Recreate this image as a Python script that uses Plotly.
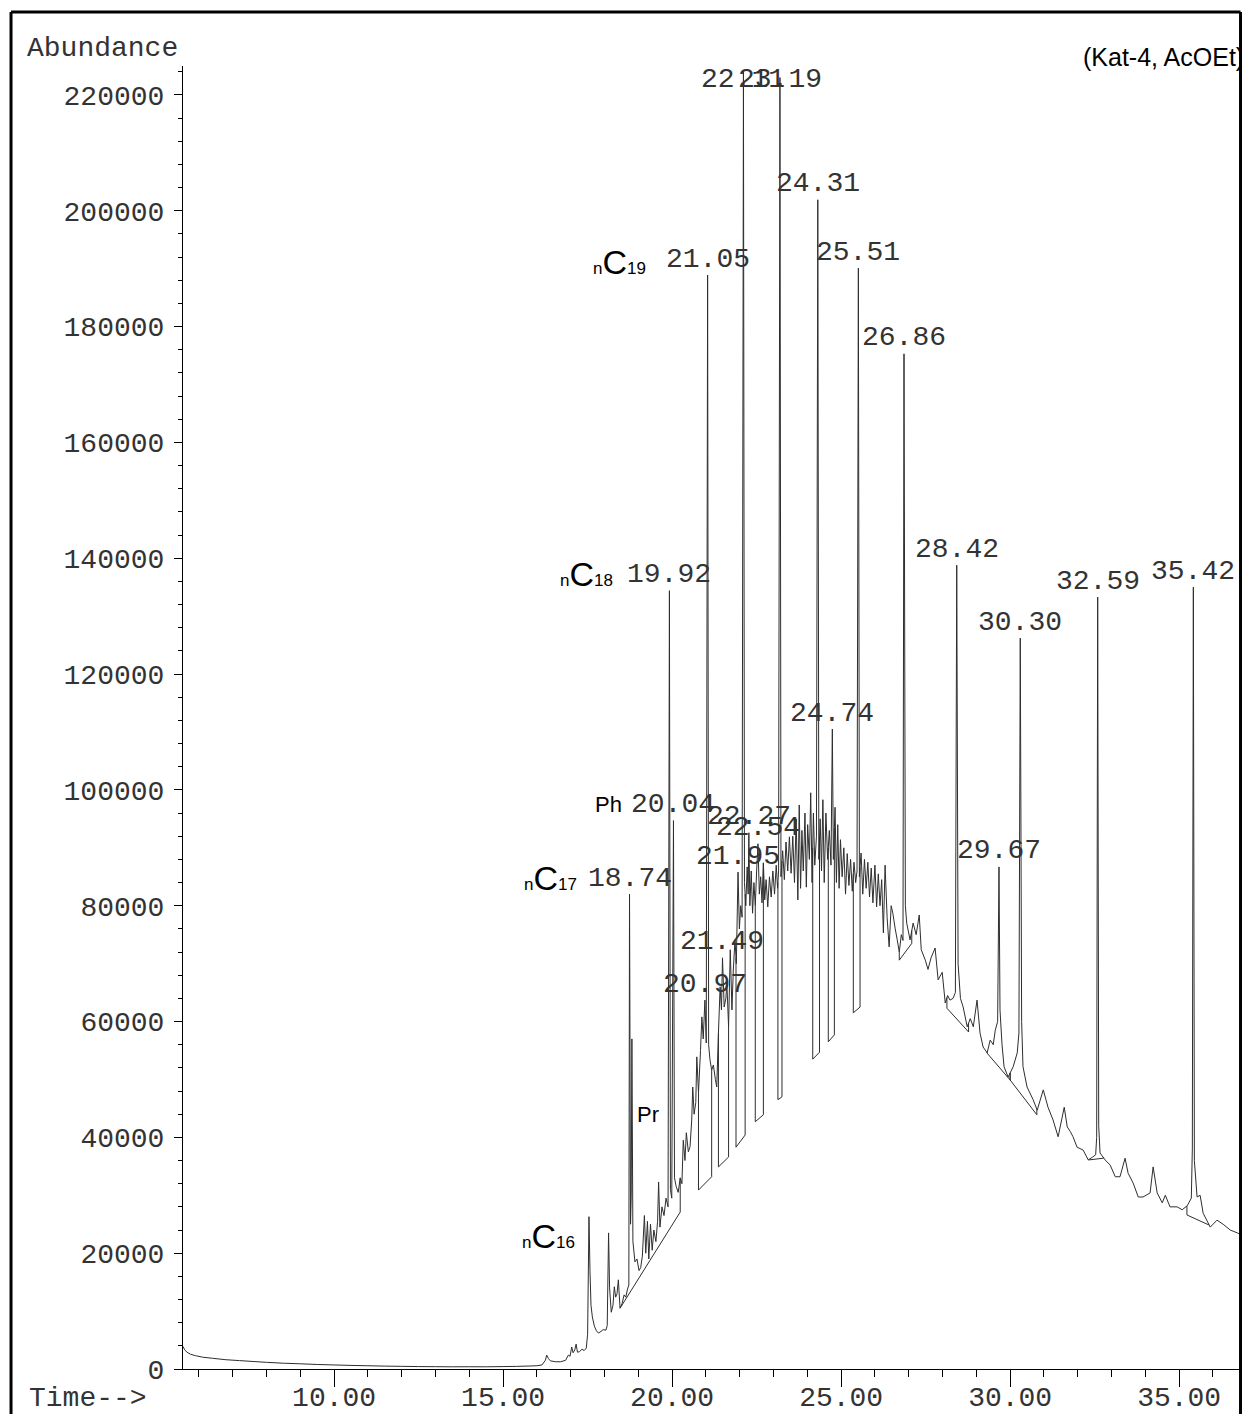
import numpy as np
import plotly.graph_objects as go

# ---- chromatogram signal (retention time in min, abundance) ----
baseline_early = [
    (5.53, 3900), (5.58, 3300), (5.65, 2900), (5.75, 2550), (5.90, 2300), (6.10, 2050),
    (6.40, 1850), (6.80, 1600), (7.20, 1450), (7.60, 1300), (8.00, 1150), (8.50, 1000),
    (9.00, 900), (9.50, 780), (10.00, 700), (10.50, 620), (11.00, 560), (11.50, 500),
    (12.00, 460), (12.50, 420), (13.00, 400), (13.50, 380), (14.00, 390), (14.50, 380),
    (15.00, 420), (15.40, 450), (15.80, 520), (16.00, 560), (16.15, 700),
]

front_peaks = [
    (16.25, 1500), (16.29, 2400), (16.34, 1800), (16.40, 1400), (16.55, 1250), (16.70, 1250),
    (16.85, 1500), (16.93, 2400), (16.98, 2200), (17.03, 3800), (17.07, 2800), (17.12, 3300),
    (17.16, 4300), (17.20, 2900), (17.26, 3000), (17.33, 3400), (17.40, 3200), (17.46, 3600),
    (17.50, 6000), (17.54, 26300), (17.57, 17000), (17.60, 11000), (17.64, 9000), (17.70, 7400),
    (17.76, 6600), (17.82, 6200), (17.90, 6500), (17.96, 6800), (18.04, 6700), (18.08, 7500),
    (18.12, 23500), (18.15, 14000), (18.20, 9800), (18.25, 11000), (18.29, 14200), (18.33, 12400),
    (18.37, 13000), (18.41, 15400), (18.46, 10500), (18.52, 11300), (18.58, 12800), (18.63, 12400),
    (18.68, 13800), (18.72, 14500), (18.74, 82000), (18.77, 25000), (18.79, 30000), (18.81, 57000),
    (18.84, 22000), (18.90, 18500), (18.96, 19000), (19.02, 17000), (19.07, 17500), (19.12, 19500),
    (19.18, 26500), (19.22, 20000), (19.27, 25500), (19.31, 19000), (19.36, 25000), (19.41, 20500),
    (19.46, 24000), (19.52, 22000), (19.57, 25500), (19.60, 32300), (19.64, 24500), (19.70, 28000),
    (19.76, 26500), (19.82, 29500), (19.88, 28000), (19.92, 134400), (19.95, 31000), (19.99, 29500),
    (20.04, 94700), (20.07, 33000), (20.12, 31500), (20.18, 30500), (20.24, 33000), (20.29, 32000),
    (20.33, 39500), (20.38, 36000), (20.42, 40800), (20.48, 37500), (20.53, 38400), (20.58, 43000),
    (20.61, 48700), (20.65, 44000), (20.70, 46000), (20.73, 53900), (20.78, 47700), (20.84, 55000),
    (20.88, 60800), (20.92, 57000), (20.97, 63700), (21.01, 56300), (21.05, 188900), (21.08, 56000),
    (21.12, 53400), (21.17, 51600), (21.22, 52500), (21.28, 50000), (21.32, 48700), (21.37, 58000),
    (21.42, 66000), (21.46, 62000), (21.49, 71000), (21.54, 62500), (21.59, 64000), (21.62, 66600),
    (21.67, 59100), (21.72, 72400), (21.77, 62000), (21.81, 68900),
]

hump = [
    (21.86, 74100), (21.90, 70000), (21.95, 85800), (21.99, 76000), (22.03, 80000), (22.07, 78000),
    (22.11, 224000), (22.14, 84000), (22.18, 80000), (22.22, 86700), (22.25, 82000), (22.27, 92600),
    (22.30, 80000), (22.34, 86000), (22.38, 78700), (22.42, 84000), (22.46, 80000), (22.50, 86000),
    (22.54, 90700), (22.58, 82000), (22.62, 85000), (22.66, 80500), (22.70, 87400), (22.74, 81000),
    (22.78, 84500), (22.83, 79800), (22.88, 85000), (22.93, 81500), (22.98, 86000), (23.03, 82000),
    (23.08, 87000), (23.12, 83000), (23.15, 86000), (23.19, 223000), (23.22, 85000), (23.27, 89500),
    (23.32, 84500), (23.37, 91000), (23.42, 86000), (23.47, 91900), (23.52, 85600), (23.57, 92000),
    (23.62, 84000), (23.67, 95000), (23.72, 81000), (23.76, 97400), (23.80, 83000), (23.84, 93000),
    (23.88, 86000), (23.93, 96000), (23.97, 83200), (24.01, 94000), (24.06, 88000), (24.10, 99500),
    (24.14, 84000), (24.18, 96000), (24.22, 87000), (24.27, 92000), (24.31, 201900), (24.34, 88000),
    (24.38, 95000), (24.42, 86000), (24.46, 98300), (24.50, 84000), (24.55, 96000), (24.60, 88000),
    (24.65, 93000), (24.70, 87000), (24.74, 110500), (24.77, 88000), (24.82, 97000), (24.86, 84000),
    (24.90, 94000), (24.94, 83000), (24.98, 91400), (25.03, 85000), (25.08, 90000), (25.13, 82000),
    (25.18, 89000), (25.23, 83500), (25.28, 88000), (25.33, 82500), (25.38, 87500), (25.43, 84000),
    (25.47, 86000), (25.51, 190100), (25.54, 85000), (25.59, 89100), (25.64, 82000), (25.69, 88000),
    (25.74, 83000), (25.79, 87500), (25.84, 81500), (25.89, 86500), (25.94, 80500), (26.00, 87000),
    (26.05, 79800), (26.10, 85500), (26.15, 80000), (26.20, 84500), (26.25, 75300), (26.30, 87000),
    (26.36, 78000), (26.42, 72900), (26.48, 80000), (26.53, 78700), (26.60, 76000), (26.66, 74100),
    (26.72, 72000), (26.78, 75000), (26.83, 74000), (26.86, 175300), (26.90, 80000),
]

tail = [
    (26.94, 77000), (27.04, 74100), (27.13, 77000), (27.22, 75000), (27.31, 78400), (27.37, 72400),
    (27.49, 70600), (27.57, 69000), (27.66, 71000), (27.78, 72700), (27.87, 67200), (27.99, 68500),
    (28.08, 63200), (28.15, 64500), (28.22, 63700), (28.31, 64000), (28.38, 65000), (28.42, 138800),
    (28.46, 70000), (28.53, 64000), (28.61, 62500), (28.73, 59100), (28.82, 60500), (28.91, 59100),
    (29.02, 63700), (29.11, 58000), (29.20, 55600), (29.32, 54600), (29.41, 56800), (29.50, 56000),
    (29.56, 58500), (29.63, 60000), (29.67, 86700), (29.70, 62000), (29.76, 56000), (29.82, 52200),
    (29.94, 50400), (30.09, 52200), (30.21, 54600), (30.26, 58000), (30.30, 126200), (30.34, 60000),
    (30.38, 52200), (30.50, 48700), (30.68, 46500), (30.80, 44700), (30.98, 48200), (31.12, 45200),
    (31.27, 43000), (31.42, 40100), (31.60, 45200), (31.69, 41800), (31.78, 41000), (31.86, 40100),
    (31.98, 38300), (32.16, 37800), (32.31, 36100), (32.44, 36600), (32.53, 37000), (32.56, 40000),
    (32.59, 133300), (32.62, 42000), (32.66, 37300), (32.81, 36100), (32.96, 35200), (33.11, 33200),
    (33.25, 33200), (33.40, 36400), (33.49, 33800), (33.64, 32100), (33.79, 29700), (33.93, 29700),
    (34.14, 30400), (34.23, 34900), (34.35, 30400), (34.50, 28700), (34.59, 30000), (34.73, 28000),
    (34.94, 28000), (35.09, 27500), (35.24, 28200), (35.36, 29500), (35.39, 38000), (35.42, 135000),
    (35.45, 36000), (35.53, 29700), (35.62, 30000), (35.71, 26900), (35.92, 24500), (36.12, 25700),
    (36.30, 25000), (36.51, 24000), (36.72, 23500), (36.80, 23300),
]

# ---- integration baselines (start time, start level, end time, end level) ----
int_start_t = [18.46, 20.78, 21.37, 21.89, 22.46, 23.13, 24.16, 24.62, 25.36, 26.72, 28.13, 29.31, 30.00, 32.32, 35.23]
int_start_a = [10500, 30900, 34900, 38300, 42700, 46500, 53500, 56500, 61500, 70600, 62300, 54600, 49900, 36100, 26600]
int_end_t = [20.24, 21.17, 21.67, 22.16, 22.70, 23.25, 24.36, 24.80, 25.56, 27.09, 28.77, 30.00, 30.79, 32.76, 35.87]
int_end_a = [27100, 33200, 36600, 40400, 43900, 47000, 54700, 57700, 62500, 73500, 58200, 49900, 43900, 36400, 24900]

# ---- retention times printed above peaks ----
peak_labels = [18.74, 19.92, 20.04, 20.97, 21.05, 21.49, 21.95, 22.11, 22.27, 22.54, 23.19,
               24.31, 24.74, 25.51, 26.86, 28.42, 29.67, 30.30, 32.59, 35.42]

# ---- compound tags: (text, peak time, xshift px, yshift px, anchor) ----
compound_tags = [
    ("nC16", 17.54, -12, -19, "right"),
    ("nC17", 18.74, -51, 16, "right"),
    ("nC18", 19.92, -54, 17, "right"),
    ("nC19", 21.05, -60, 13, "right"),
    ("Ph", 20.04, -49, 16, "right"),
    ("Pr", 18.81, 3, -76, "left"),
]

x_ticks = [10, 15, 20, 25, 30, 35]
y_ticks = list(range(0, 220001, 20000))

MONO = "Liberation Mono, Courier New, monospace"
SANS = "Liberation Sans, Arial, sans-serif"
INK = "#333333"

signal = baseline_early + front_peaks + hump + tail
sig_t = np.array([p[0] for p in signal])
sig_a = np.array([p[1] for p in signal])


def level(t):
    return float(np.interp(t, sig_t, sig_a))


fig = go.Figure()
fig.add_trace(go.Scatter(
    x=sig_t, y=sig_a, mode="lines",
    line=dict(color="#2e2e2e", width=1, simplify=False),
    hoverinfo="skip", showlegend=False,
))

# drop lines and baseline segments of the integration
ix, iy = [], []
for ts, bs, te, be in zip(int_start_t, int_start_a, int_end_t, int_end_a):
    ix += [ts, ts, te, te, None]
    iy += [level(ts), bs, be, level(te), None]
fig.add_trace(go.Scatter(
    x=ix, y=iy, mode="lines",
    line=dict(color="#2e2e2e", width=1, simplify=False),
    hoverinfo="skip", showlegend=False,
))

annotations = []
for tl in peak_labels:
    a = level(tl)
    if a > 215000:
        y, ys = 222600, 0
    else:
        y, ys = a, 16
    annotations.append(dict(
        x=tl, y=y, xref="x", yref="y", text=f"{tl:.2f}", showarrow=False,
        xanchor="center", yanchor="middle", yshift=ys,
        font=dict(family=MONO, size=28, color=INK),
    ))

for text, tp, xs, ys, anc in compound_tags:
    if text.startswith("nC"):
        label = ('<span style="font-size:17px">n</span>C'
                 f'<span style="font-size:17px">{text[2:]}</span>')
        size = 34
    else:
        label = text
        size = 22
    annotations.append(dict(
        x=tp, y=level(tp), xref="x", yref="y", text=label, showarrow=False,
        xanchor=anc, yanchor="middle", xshift=xs, yshift=ys,
        font=dict(family=SANS, size=size, color="black"),
    ))

annotations += [
    dict(x=-0.1495, y=1.0138, xref="paper", yref="paper", text="Abundance",
         showarrow=False, xanchor="left", yanchor="middle",
         font=dict(family=MONO, size=28, color=INK)),
    dict(x=-0.1476, y=-0.0223, xref="paper", yref="paper", text="Time-->",
         showarrow=False, xanchor="left", yanchor="middle",
         font=dict(family=MONO, size=28, color=INK)),
    dict(x=1.0057, y=1.0069, xref="paper", yref="paper", text="(Kat-4, AcOEt)",
         showarrow=False, xanchor="right", yanchor="middle",
         font=dict(family=SANS, size=25, color="black")),
]

# page frame (left, top and right edges)
frame = dict(color="black", width=3)
shapes = [
    dict(type="line", xref="paper", yref="paper", x0=-0.1627, x1=-0.1627, y0=-0.05, y1=1.0414, line=frame),
    dict(type="line", xref="paper", yref="paper", x0=-0.1627, x1=1.0005, y0=1.0414, y1=1.0414, line=frame),
    dict(type="line", xref="paper", yref="paper", x0=1.0005, x1=1.0005, y0=-0.05, y1=1.0414, line=frame),
]

fig.update_layout(
    width=1242, height=1414,
    margin=dict(l=183, r=2, t=66, b=45, autoexpand=False),
    paper_bgcolor="white", plot_bgcolor="white",
    showlegend=False,
    annotations=annotations,
    shapes=shapes,
    xaxis=dict(
        range=[5.53, 36.80], tickvals=x_ticks, tickformat=".2f", automargin=False,
        ticks="outside", ticklen=17, tickwidth=1, tickcolor="black",
        ticklabelstandoff=-15,
        minor=dict(dtick=1, tick0=0, ticks="outside", ticklen=7, tickwidth=1, tickcolor="black"),
        showline=True, linecolor="black", linewidth=1,
        showgrid=False, zeroline=False,
        tickfont=dict(family=MONO, size=28, color=INK),
    ),
    yaxis=dict(
        range=[0, 225000], tickvals=y_ticks, tickformat="d", automargin=False,
        ticks="outside", ticklen=8, tickwidth=1, tickcolor="black",
        ticklabelstandoff=4,
        minor=dict(dtick=4000, tick0=0, ticks="outside", ticklen=4, tickwidth=1, tickcolor="black"),
        showline=True, linecolor="black", linewidth=1,
        showgrid=False, zeroline=False,
        tickfont=dict(family=MONO, size=28, color=INK),
    ),
)

fig.write_html("out.html")
